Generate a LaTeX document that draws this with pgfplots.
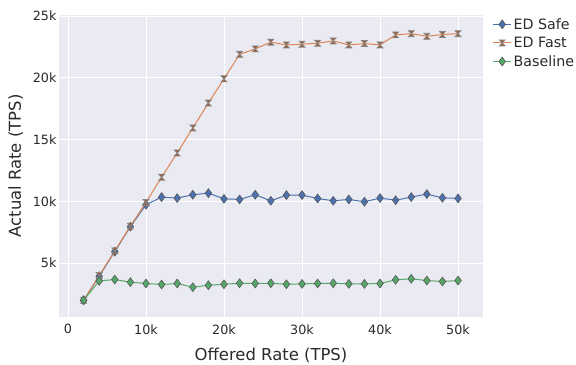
\documentclass[border=0pt]{standalone}
\usepackage{pgfplots}
\pgfplotsset{compat=1.18}
\usepackage{fontspec}
\setmainfont{DejaVu Sans}
\definecolor{bgc}{HTML}{EAEAF2}
\definecolor{cblue}{HTML}{4C72B0}
\definecolor{corange}{HTML}{DD8452}
\definecolor{cgreen}{HTML}{55A868}
\definecolor{medge}{HTML}{555555}
\definecolor{txt}{HTML}{2A2A2A}
\pgfdeclareplotmark{hourglass}{%
  \pgfpathmoveto{\pgfqpoint{-\pgfplotmarksize}{\pgfplotmarksize}}%
  \pgfpathlineto{\pgfqpoint{\pgfplotmarksize}{\pgfplotmarksize}}%
  \pgfpathlineto{\pgfqpoint{-\pgfplotmarksize}{-\pgfplotmarksize}}%
  \pgfpathlineto{\pgfqpoint{\pgfplotmarksize}{-\pgfplotmarksize}}%
  \pgfpathclose
  \pgfusepathqfillstroke}
\pgfplotstableread{
x safe fast base
2000 2000 2000 2000
4000 3950 4000 3570
6000 5940 6000 3680
8000 7960 8000 3470
10000 9730 9920 3360
12000 10350 11960 3280
14000 10270 13920 3360
16000 10540 15940 3060
18000 10670 17960 3220
20000 10210 19920 3300
22000 10160 21900 3380
24000 10540 22340 3360
26000 10050 22880 3380
28000 10510 22660 3300
30000 10510 22720 3330
32000 10240 22800 3360
34000 10050 22980 3380
36000 10160 22660 3330
38000 9970 22770 3330
40000 10270 22660 3360
42000 10100 23470 3660
44000 10350 23570 3740
46000 10590 23360 3600
48000 10290 23500 3520
50000 10240 23570 3600
}\datatable
\begin{document}
\begin{tikzpicture}[x=1bp,y=1bp]
\useasboundingbox (0,0) rectangle (576,364);
\begin{axis}[
  at={(59bp,47bp)}, anchor=south west,
  width=424bp, height=302bp, scale only axis,
  xmin=-1150, xmax=53200, ymin=650, ymax=25080,
  axis background/.style={fill=bgc},
  axis line style={draw=none},
  major tick length=0pt,
  grid=major, major grid style={white, line width=0.9pt},
  xtick={0,10000,20000,30000,40000,50000},
  xticklabels={0,10k,20k,30k,40k,50k},
  ytick={5000,10000,15000,20000,25000},
  yticklabels={5k,10k,15k,20k,25k},
  scaled ticks=false,
  tick label style={font=\fontsize{12.8}{14}\selectfont, text=txt},
  xticklabel style={yshift=-4bp},
  yticklabel style={xshift=1bp},
  xlabel={Offered Rate (TPS)}, ylabel={Actual Rate (TPS)},
  label style={font=\fontsize{16.5}{19}\selectfont, text=txt},
  xlabel style={yshift=-7bp},
  ylabel style={yshift=3bp},
  legend style={at={(1.02,1)}, anchor=north west, draw=none, fill=none,
    font=\fontsize{14.3}{16}\selectfont, text=txt, row sep=2.5bp,
    inner sep=1bp},
  legend cell align=left,
  legend image code/.code={
    \draw[#1, mark repeat=2, mark phase=2] plot coordinates {(0bp,0bp) (9bp,0bp) (18bp,0bp)};},
  every axis plot/.append style={line width=1pt},
]
\addplot[cblue, mark=diamond*, mark size=4.4bp, mark options={fill=cblue, draw=medge, line width=0.6pt}] table[x=x,y=safe]{\datatable};
\addlegendentry{ED Safe}
\addplot[corange, mark=hourglass, mark size=3bp, mark options={fill=corange!70!black, draw=medge!70, line width=0.7pt}] table[x=x,y=fast]{\datatable};
\addlegendentry{ED Fast}
\addplot[cgreen, mark=diamond*, mark size=4.4bp, mark options={fill=cgreen, draw=medge, line width=0.6pt}] table[x=x,y=base]{\datatable};
\addlegendentry{Baseline}
\end{axis}
\end{tikzpicture}
\end{document}
